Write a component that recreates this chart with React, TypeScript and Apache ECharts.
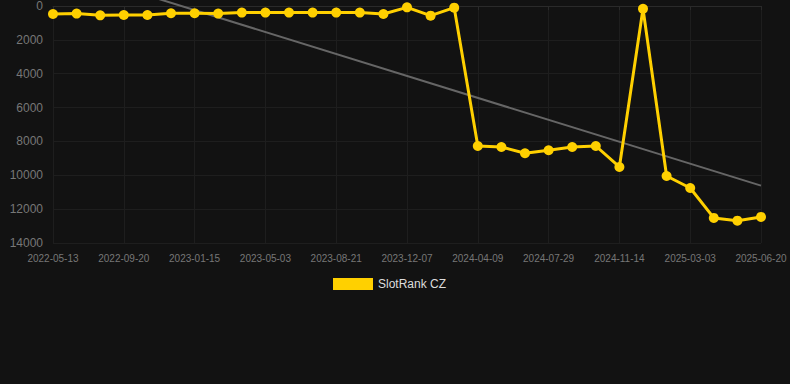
import React, { useEffect, useRef } from "react";
import * as echarts from "echarts";

const dates: string[] = [
  "2022-05-13", "2022-06-25", "2022-08-07",
  "2022-09-20", "2022-10-29", "2022-12-07",
  "2023-01-15", "2023-02-20", "2023-03-28",
  "2023-05-03", "2023-06-08", "2023-07-15",
  "2023-08-21", "2023-09-26", "2023-11-01",
  "2023-12-07", "2024-01-17", "2024-02-28",
  "2024-04-09", "2024-05-16", "2024-06-22",
  "2024-07-29", "2024-09-04", "2024-10-09",
  "2024-11-14", "2024-12-20", "2025-01-25",
  "2025-03-03", "2025-04-08", "2025-05-14",
  "2025-06-20",
];

const rankValues: number[] = [
  470, 450, 550, 530, 530, 430, 430, 450, 390, 390, 390, 390, 390, 390, 470,
  80, 570, 100,
  8270, 8330, 8700, 8520, 8330, 8270, 9510, 160, 10040, 10750, 12520, 12680, 12460,
];

const trendStart = -2350;
const trendEnd = 10610;

const yTicks = { min: 0, max: 14000, interval: 2000 };

export default function App() {
  const ref = useRef<HTMLDivElement>(null);
  useEffect(() => {
    if (!ref.current) return;
    const chart = echarts.init(ref.current, undefined, { renderer: "svg" });
    chart.setOption({
      animation: false,
      backgroundColor: "#121212",
      grid: { left: 53, right: 29, top: 6, bottom: 141 },
      legend: {
        show: true,
        left: 333,
        top: 278,
        itemWidth: 40,
        itemHeight: 12,
        itemGap: 10,
        padding: 0,
        data: [{ name: "SlotRank CZ", icon: "rect" }],
        textStyle: { color: "#dddddd", fontSize: 12, fontFamily: "Liberation Sans, Arial, sans-serif" },
      },
      xAxis: {
        type: "category",
        data: dates,
        boundaryGap: false,
        axisLine: { show: true, lineStyle: { color: "#2a2a2a" } },
        axisTick: { show: true, interval: 2, length: 4, lineStyle: { color: "#2a2a2a" } },
        axisLabel: {
          interval: 2,
          color: "#777777",
          fontSize: 10,
          margin: 10,
          fontFamily: "Liberation Sans, Arial, sans-serif",
        },
        splitLine: { show: true, interval: 2, lineStyle: { color: "#1e1e1e" } },
      },
      yAxis: {
        type: "value",
        inverse: true,
        min: yTicks.min,
        max: yTicks.max,
        interval: yTicks.interval,
        axisLine: { show: false },
        axisTick: { show: false },
        axisLabel: {
          color: "#777777",
          fontSize: 12,
          margin: 10,
          fontFamily: "Liberation Sans, Arial, sans-serif",
          formatter: (v: number) => String(v),
        },
        splitLine: { show: true, lineStyle: { color: "#1e1e1e" } },
      },
      series: [
        {
          name: "Trend",
          type: "line",
          data: [
            [dates[0], trendStart],
            [dates[dates.length - 1], trendEnd],
          ],
          clip: false,
          symbol: "none",
          lineStyle: { color: "#666666", width: 2 },
          silent: true,
          z: 1,
        },
        {
          name: "SlotRank CZ",
          type: "line",
          data: rankValues,
          symbol: "circle",
          symbolSize: 10,
          itemStyle: { color: "#FFD000" },
          lineStyle: { color: "#FFD000", width: 3 },
          z: 2,
        },
      ],
    });
    return () => chart.dispose();
  }, []);
  return (
    <div
      ref={ref}
      style={{ position: "fixed", left: 0, top: 0, width: 790, height: 384 }}
    />
  );
}
